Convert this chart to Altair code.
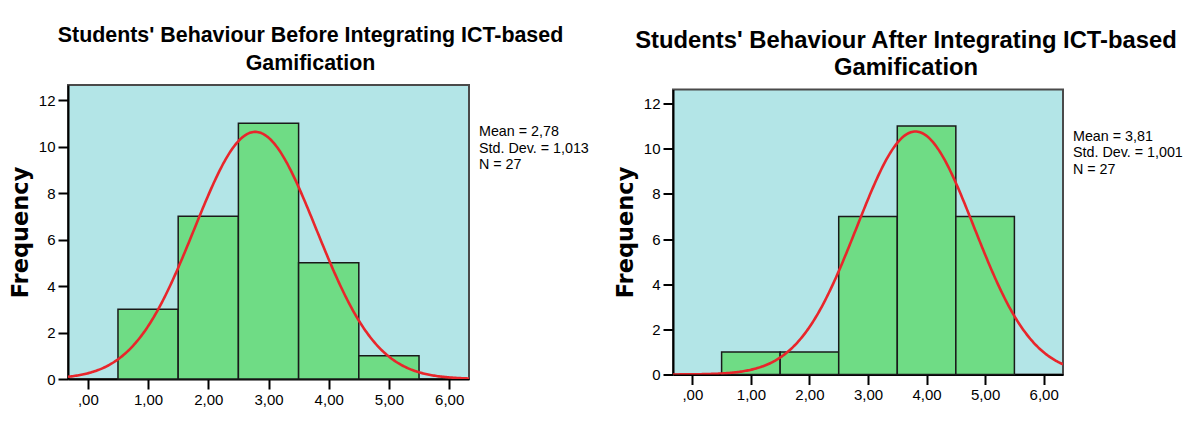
import altair as alt
import pandas as pd

# ---------------- data ----------------
bin_starts = [0.5, 1.5, 2.5, 3.5, 4.5]
bin_ends = [1.5, 2.5, 3.5, 4.5, 5.5]
before_counts = [3, 7, 11, 5, 1]
after_counts = [1, 1, 7, 11, 7]

before_mean, before_sd, before_n = 2.78, 1.013, 27
after_mean, after_sd, after_n = 3.81, 1.001, 27

x_ticks = [0, 1, 2, 3, 4, 5, 6]
x_tick_labels = [",00", "1,00", "2,00", "3,00", "4,00", "5,00", "6,00"]
y_ticks = [0, 2, 4, 6, 8, 10, 12]

before_title = ["Students' Behaviour Before Integrating ICT-based", "Gamification"]
after_title = ["Students' Behaviour After Integrating ICT-based", "Gamification"]

BG = "#b3e5e7"
GREEN = "#6fdc85"
RED = "#e8262b"
FONT = "Liberation Sans, Arial, sans-serif"


def fmt(v, d):
    return f"{v:.{d}f}".replace(".", ",")


def panel(title, title_size, title_lh, title_dx, title_offset, width, height, ymax,
          counts, mean, sd, n):
    bars_df = pd.DataFrame({"start": bin_starts, "end": bin_ends, "count": counts})
    xscale = alt.Scale(domain=[-0.33, 6.33], nice=False, zero=False)
    yscale = alt.Scale(domain=[0, ymax], nice=False)

    xaxis = alt.Axis(values=x_ticks, labelExpr=f"{x_tick_labels}[datum.value]",
                     title=None, grid=False)
    yaxis = alt.Axis(values=y_ticks, title="Frequency", grid=False)

    bars = alt.Chart(bars_df).mark_rect(
        fill=GREEN, stroke="#1a1a1a", strokeWidth=1.5
    ).encode(
        x=alt.X("start:Q", scale=xscale, axis=xaxis),
        x2="end:Q",
        y=alt.Y("count:Q", scale=yscale, axis=yaxis),
        y2=alt.datum(0),
    )

    binw = bin_ends[0] - bin_starts[0]
    curve = alt.Chart(alt.sequence(-0.33, 6.335, 0.02, as_="x")).transform_calculate(
        y=f"{n}*{binw}*exp(-0.5*pow((datum.x-{mean})/{sd},2))/({sd}*sqrt(2*PI))"
    ).mark_line(color=RED, strokeWidth=2.6, clip=True).encode(
        x=alt.X("x:Q", scale=xscale),
        y=alt.Y("y:Q", scale=yscale),
    )

    stats = [f"Mean = {fmt(mean, 2)}", f"Std. Dev. = {fmt(sd, 3)}", f"N = {n}"]
    note = alt.Chart(alt.Data(values=[{"t": "\n".join(stats)}])).mark_text(
        align="left", baseline="top", font=FONT, fontSize=14.3,
        lineHeight=16.7, lineBreak="\n", color="black"
    ).encode(x=alt.value(width + 10), y=alt.value(40), text="t:N")

    return alt.layer(bars, curve, note).properties(
        width=width, height=height,
        title=alt.TitleParams(
            text=title, font=FONT, fontSize=title_size, fontWeight="bold",
            anchor="middle", frame="group", dx=title_dx, offset=title_offset,
            lineHeight=title_lh, color="black",
        ),
    )


left = panel(before_title, 21.4, 27.5, 42, 11, 401, 294, 12.65,
             before_counts, before_mean, before_sd, before_n)
right = panel(after_title, 23.8, 27, 38, 10, 390, 285, 12.62,
              after_counts, after_mean, after_sd, after_n)

chart = alt.hconcat(left, right, spacing=204, bounds="flush", center=True).properties(
    padding={"left": 0, "top": 16, "right": 0, "bottom": 0},
).configure_view(
    fill=BG, stroke="#4a4a4a", strokeWidth=2
).configure_axis(
    labelFont=FONT, labelFontSize=15, labelColor="black",
    domainColor="black", domainWidth=2, tickColor="black", tickWidth=2,
    tickSize=10, labelPadding=3,
    titleFont="DejaVu Sans", titleFontSize=22.5, titleFontWeight="bold",
    titleColor="black", titlePadding=6,
)

chart.save("out.html", embed_options={"renderer": "svg", "actions": False})
